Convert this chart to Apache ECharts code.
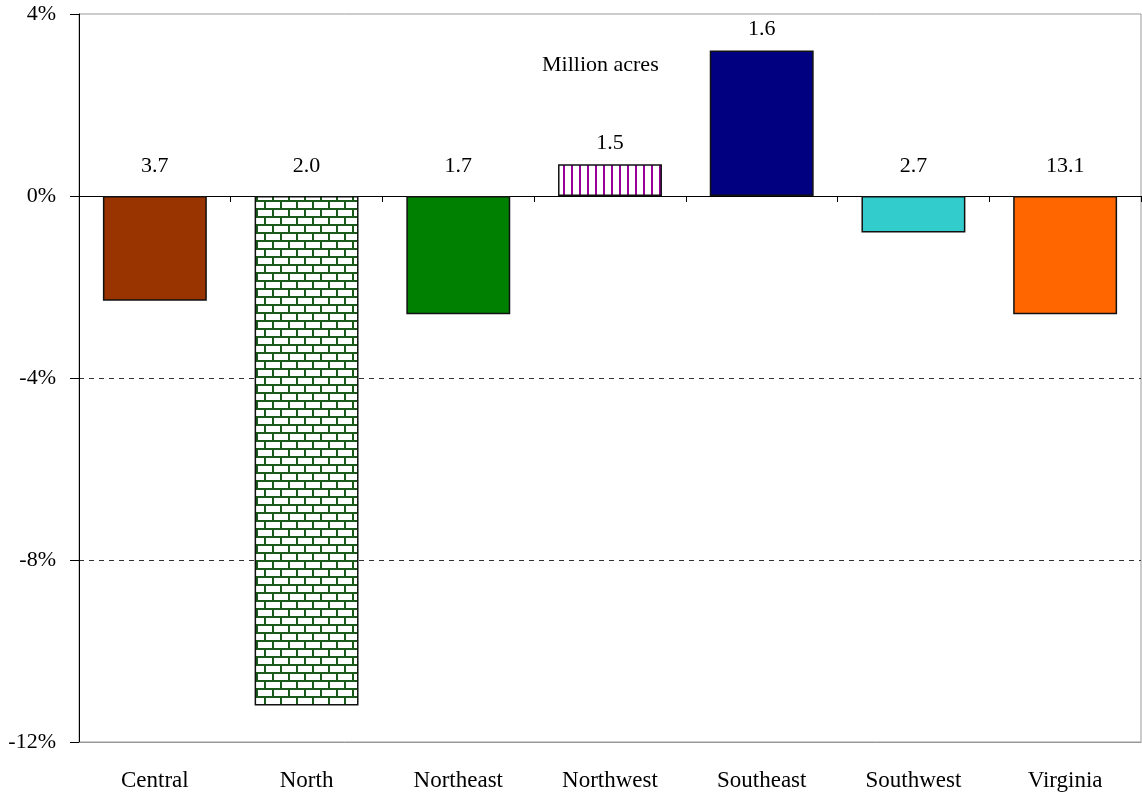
<!DOCTYPE html>
<html>
<head>
<meta charset="utf-8">
<script src="https://cdn.jsdelivr.net/npm/echarts@6/dist/echarts.min.js"></script>
<style>
html,body{margin:0;padding:0;background:#fff;}
#chart{width:1142px;height:796px;}
</style>
</head>
<body>
<div id="chart"></div>
<script>
// ---- data ----
const categories = ['Central', 'North', 'Northeast', 'Northwest', 'Southeast', 'Southwest', 'Virginia'];
const changePct = [-2.3, -11.2, -2.6, 0.7, 3.2, -0.8, -2.6];
const acresLabels = ['3.7', '2.0', '1.7', '1.5', '1.6', '2.7', '13.1'];
const yTickMin = -12, yTickMax = 4, yTickStep = 4;
const annotation = 'Million acres';

// ---- patterns ----
function brickPattern() {
  const c = document.createElement('canvas');
  c.width = 16; c.height = 16;
  const g = c.getContext('2d');
  g.fillStyle = '#ffffff'; g.fillRect(0, 0, 16, 16);
  g.fillStyle = '#1a5a1a';
  g.fillRect(0, 0, 16, 2);
  g.fillRect(0, 8, 16, 2);
  g.fillRect(0, 0, 2, 8);
  g.fillRect(8, 8, 2, 8);
  return {image: c, repeat: 'repeat'};
}
function stripePattern() {
  const c = document.createElement('canvas');
  c.width = 8; c.height = 8;
  const g = c.getContext('2d');
  g.fillStyle = '#ffffff'; g.fillRect(0, 0, 8, 8);
  g.fillStyle = '#990099';
  g.fillRect(3, 0, 2, 8);
  return {image: c, repeat: 'repeat'};
}
const fills = ['#993300', brickPattern(), '#008000', stripePattern(), '#000080', '#33CCCC', '#FF6600'];

const FONT = '"Liberation Serif", "Times New Roman", serif';

const barData = changePct.map((v, i) => ({
  value: v,
  itemStyle: {color: fills[i]},
  label: {distance: v < 0 ? 19 : 10}
}));

const chart = echarts.init(document.getElementById('chart'), null, {renderer: 'canvas'});
chart.setOption({
  animation: false,
  backgroundColor: '#ffffff',
  textStyle: {fontFamily: FONT},
  grid: {left: 79, right: 1, top: 14, bottom: 54, show: true, borderColor: '#999999', borderWidth: 1, backgroundColor: 'transparent'},
  xAxis: [{
    type: 'category',
    data: categories,
    position: 'bottom',
    axisLine: {show: true, onZero: false, lineStyle: {color: '#999999', width: 1}},
    axisTick: {show: false},
    axisLabel: {fontFamily: FONT, fontSize: 23, color: '#000', margin: 27}
  }, {
    type: 'category',
    data: categories,
    position: 'bottom',
    axisLine: {show: true, onZero: true, lineStyle: {color: '#000', width: 1}},
    axisTick: {show: true, inside: false, length: 6, lineStyle: {color: '#000'}},
    axisLabel: {show: false},
    splitLine: {show: false}
  }],
  yAxis: {
    type: 'value',
    min: yTickMin, max: yTickMax, interval: yTickStep,
    axisLine: {show: true, lineStyle: {color: '#000', width: 1}},
    axisTick: {show: true, length: 9, lineStyle: {color: '#000'}},
    axisLabel: {fontFamily: FONT, fontSize: 22, color: '#000', margin: 23, formatter: v => v + '%'},
    splitLine: {show: true, lineStyle: {color: ['transparent', '#333333', '#333333', 'transparent', 'transparent'], type: [5, 5], width: 1}}
  },
  series: [{
    type: 'bar',
    xAxisIndex: 0,
    data: barData,
    barCategoryGap: '31.5%',
    itemStyle: {borderColor: '#111', borderWidth: 1.5},
    label: {
      show: true,
      position: 'top',
      fontFamily: FONT, fontSize: 22, color: '#000',
      formatter: p => acresLabels[p.dataIndex]
    }
  }],
  graphic: [{
    type: 'text',
    left: 542, top: 54,
    style: {text: annotation, font: '22px ' + FONT, fill: '#000'}
  }]
});
</script>
</body>
</html>
